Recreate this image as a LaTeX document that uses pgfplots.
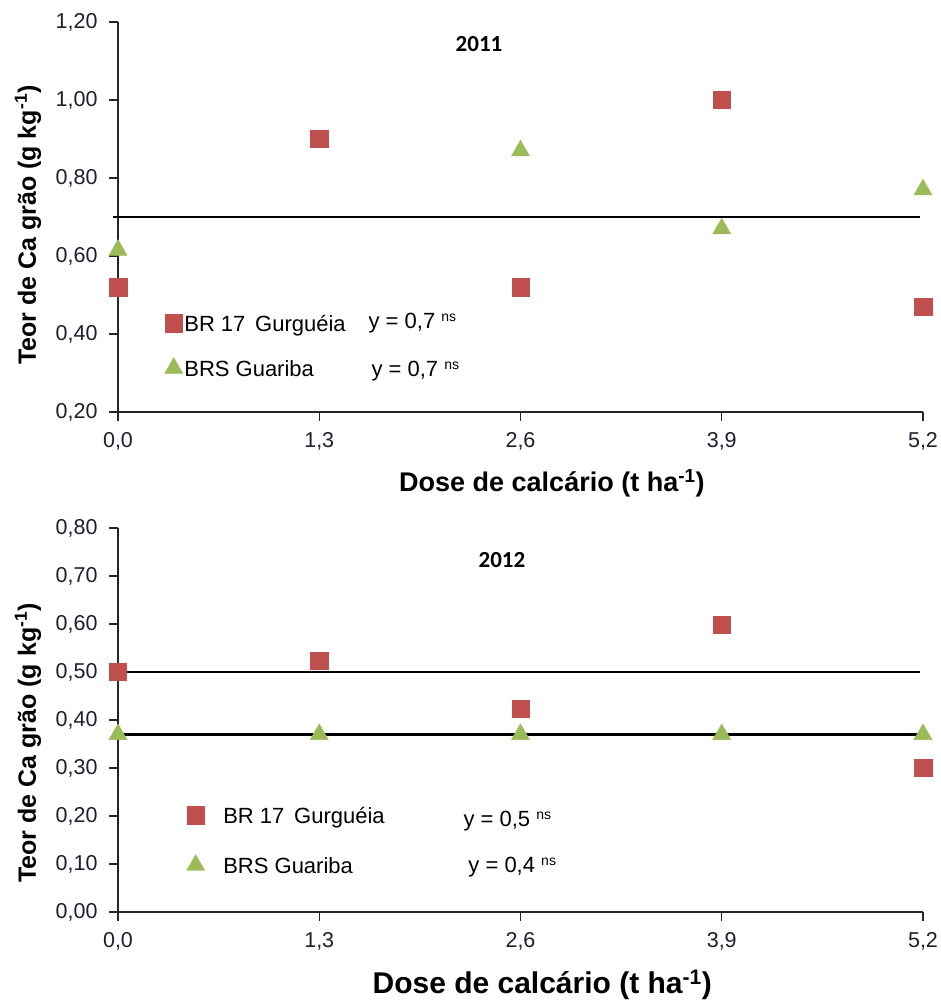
\documentclass[border=0pt]{standalone}
\usepackage{pgfplots}
\pgfplotsset{compat=1.18}
\usepackage{fontspec}
\setmainfont{Liberation Sans}
\newfontfamily\calibri{Carlito}
\definecolor{myred}{HTML}{C0504D}
\definecolor{mygreen}{HTML}{9BBB59}
\definecolor{axcol}{HTML}{262626}
\definecolor{tickcol}{HTML}{1E1E30}

\pgfplotsset{
  myaxis/.style={
    scale only axis,
    width=805pt,
    xmin=0, xmax=5.2,
    axis x line=bottom, axis y line=left,
    axis line style={-, line width=1.2pt, draw=axcol},
    tick align=outside,
    major tick length=9pt,
    tick style={line width=1.2pt, draw=axcol},
    xtick={0,1.3,2.6,3.9,5.2},
    xticklabels={{0,0},{1,3},{2,6},{3,9},{5,2}},
    tick label style={font=\fontsize{21.5}{21.5}\selectfont, text=tickcol},
    xticklabel style={yshift=-8pt},
    yticklabel style={xshift=-8pt},
    clip=false,
    legend cell align=left,
    legend image code/.code={\draw[mark repeat=1,##1] plot coordinates {(0pt,0pt)};},
  },
  redpts/.style={only marks, mark=square*, mark size=8.7pt, color=myred},
  greenpts/.style={only marks, mark=triangle*, mark size=10.5pt, color=mygreen},
}

\begin{document}
\begin{tikzpicture}
\path[use as bounding box] (0,0) rectangle (941pt,1001pt);

% ---------- 2011 ----------
\begin{axis}[myaxis,
  at={(118pt,589pt)}, anchor=south west,
  height=390pt,
  ymin=0.2, ymax=1.2,
  ytick={0.2,0.4,0.6,0.8,1.0,1.2},
  yticklabels={{0,20},{0,40},{0,60},{0,80},{1,00},{1,20}},
  xlabel={Dose de calcário (t ha\textsuperscript{-1})},
  xlabel style={font=\bfseries\fontsize{27}{27}\selectfont, at={(axis description cs:0.539,-0.182)}, anchor=center},
  ylabel={Teor de Ca grão (g kg\textsuperscript{-1})},
  ylabel style={font=\bfseries\fontsize{25}{25}\selectfont, at={(axis description cs:-0.1118,0.479)}, anchor=center, rotate=0},
  legend style={at={(axis cs:0.300,0.459)}, anchor=north west, draw=none, fill=none, inner sep=0pt,
    font=\fontsize{22}{26}\selectfont, row sep=21pt, column sep=1.5pt,
    nodes={inner sep=0pt, text height=20pt, text depth=4pt}},
]
\addplot[redpts] coordinates {(0,0.52) (1.3,0.90) (2.6,0.52) (3.9,1.00) (5.2,0.47)};
\addplot[greenpts] coordinates {(0,0.615) (2.6,0.87) (3.9,0.67) (5.2,0.77)};
\addplot[black, line width=2.6pt] coordinates {(-0.03,0.70) (5.18,0.70)};
\legend{BR 17\, Gurguéia, BRS Guariba}
\node[anchor=base west, font=\fontsize{22}{22}\selectfont] at (axis cs:1.596,0.415) {y = 0,7 \raisebox{7pt}{\fontsize{14}{14}\selectfont ns}};
\node[anchor=base west, font=\fontsize{22}{22}\selectfont] at (axis cs:1.615,0.290) {y = 0,7 \raisebox{7pt}{\fontsize{14}{14}\selectfont ns}};
\node[font=\calibri\bfseries\fontsize{23}{23}\selectfont] at (axis cs:2.332,1.144) {2011};
\end{axis}

% ---------- 2012 ----------
\begin{axis}[myaxis,
  at={(118pt,89pt)}, anchor=south west,
  height=384pt,
  ymin=0, ymax=0.8,
  ytick={0,0.1,0.2,0.3,0.4,0.5,0.6,0.7,0.8},
  yticklabels={{0,00},{0,10},{0,20},{0,30},{0,40},{0,50},{0,60},{0,70},{0,80}},
  xlabel={Dose de calcário (t ha\textsuperscript{-1})},
  xlabel style={font=\bfseries\fontsize{30}{30}\selectfont, at={(axis description cs:0.527,-0.190)}, anchor=center},
  ylabel={Teor de Ca grão (g kg\textsuperscript{-1})},
  ylabel style={font=\bfseries\fontsize{25}{25}\selectfont, at={(axis description cs:-0.1118,0.44)}, anchor=center},
  legend style={at={(axis cs:0.442,0.227)}, anchor=north west, draw=none, fill=none, inner sep=0pt,
    font=\fontsize{22}{26}\selectfont, row sep=26pt, column sep=18.5pt,
    nodes={inner sep=0pt, text height=20pt, text depth=4pt}},
]
\addplot[redpts] coordinates {(0,0.50) (1.3,0.523) (2.6,0.423) (3.9,0.598) (5.2,0.30)};
\addplot[greenpts] coordinates {(0,0.37) (1.3,0.37) (2.6,0.37) (3.9,0.37) (5.2,0.37)};
\addplot[black, line width=2.6pt] coordinates {(0,0.50) (5.18,0.50)};
\addplot[black, line width=2.6pt] coordinates {(0,0.37) (5.18,0.37)};
\legend{BR 17\, Gurguéia, BRS Guariba}
\node[anchor=base west, font=\fontsize{22}{22}\selectfont] at (axis cs:2.209,0.179) {y = 0,5 \raisebox{7pt}{\fontsize{14}{14}\selectfont ns}};
\node[anchor=base west, font=\fontsize{22}{22}\selectfont] at (axis cs:2.241,0.083) {y = 0,4 \raisebox{7pt}{\fontsize{14}{14}\selectfont ns}};
\node[font=\calibri\bfseries\fontsize{23}{23}\selectfont] at (axis cs:2.480,0.733) {2012};
\end{axis}
\end{tikzpicture}
\end{document}
